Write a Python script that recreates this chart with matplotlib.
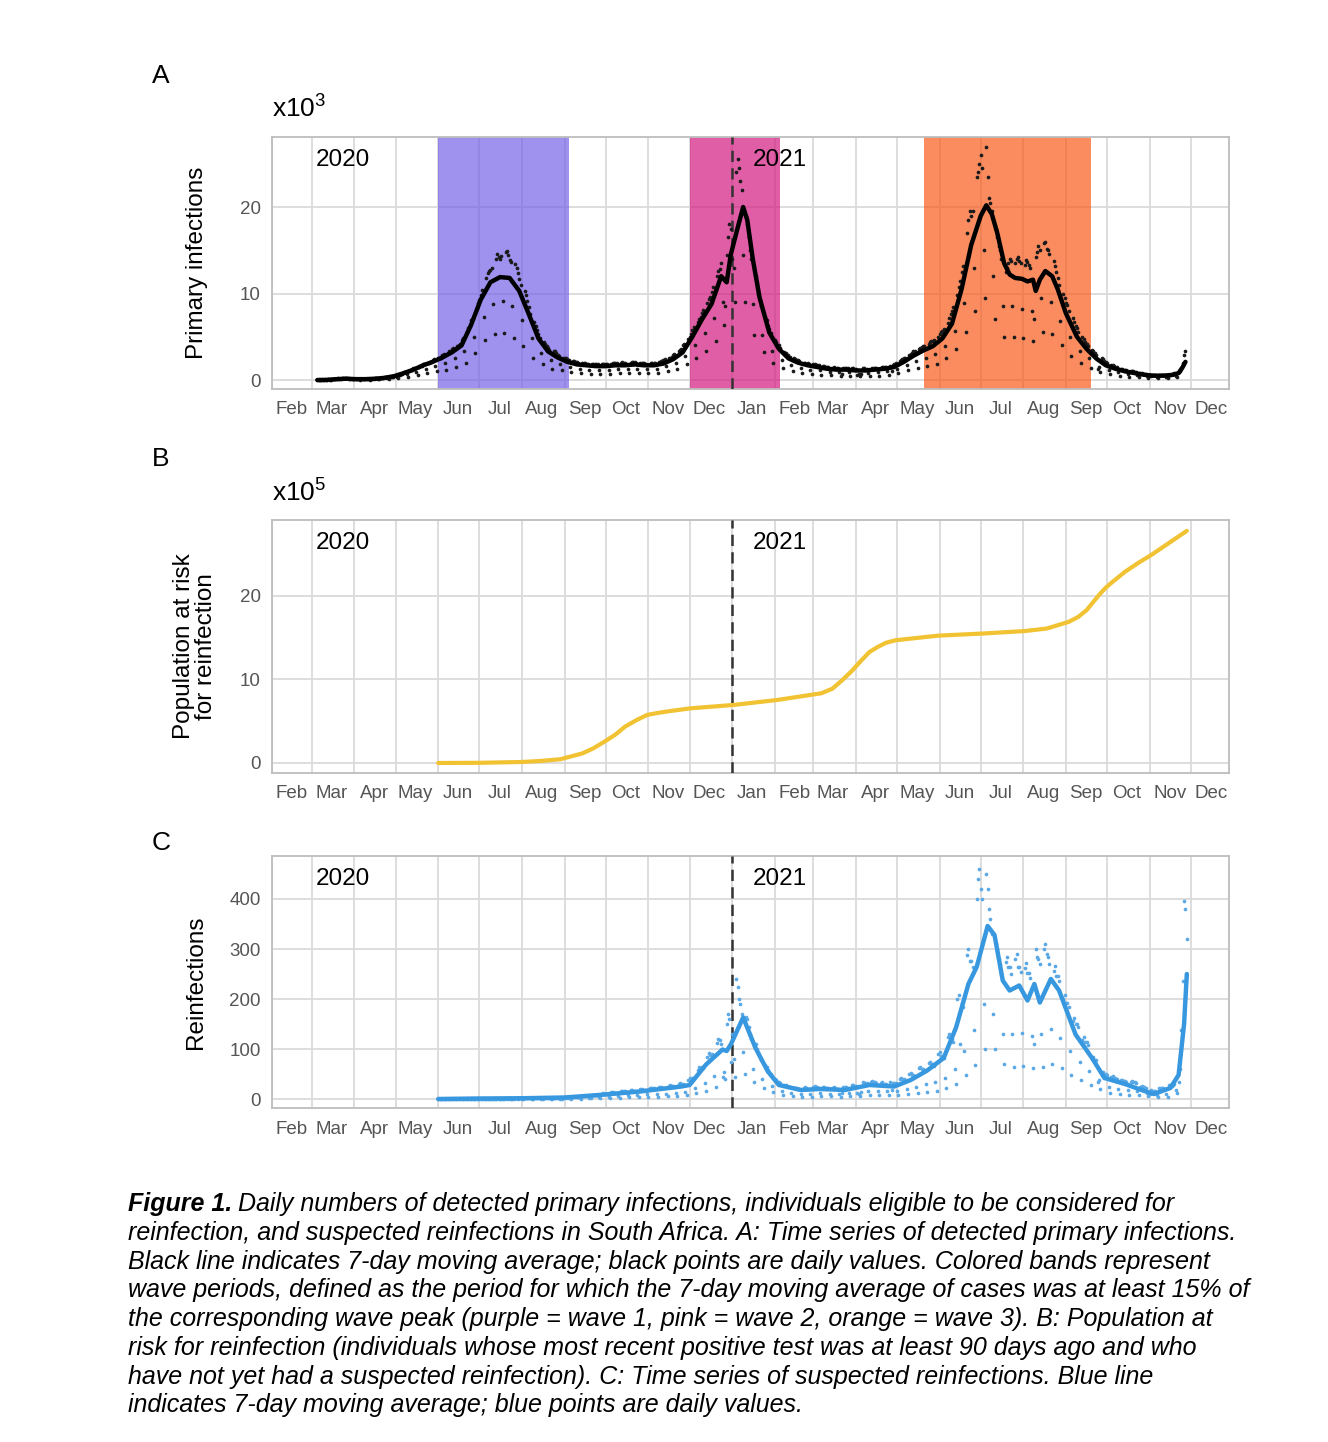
import numpy as np
import matplotlib
matplotlib.use('Agg')
import matplotlib.pyplot as plt
import matplotlib.dates as mdates

plt.rcParams['font.family'] = ['Liberation Sans', 'DejaVu Sans']
plt.rcParams['mathtext.fontset'] = 'custom'
plt.rcParams['mathtext.rm'] = 'Liberation Sans'

# ---------------- data ----------------
month_labels = ['Feb', 'Mar', 'Apr', 'May', 'Jun', 'Jul', 'Aug', 'Sep', 'Oct', 'Nov', 'Dec',
                'Jan', 'Feb', 'Mar', 'Apr', 'May', 'Jun', 'Jul', 'Aug', 'Sep', 'Oct', 'Nov', 'Dec']

wave_start = ['2020-06-01', '2020-12-01', '2021-05-21']
wave_end = ['2020-09-04', '2021-02-05', '2021-09-19']

# A: 7-day moving average of primary infections (x10^3)
prim_ma_dates = ['2020-03-05', '2020-03-12', '2020-03-19', '2020-03-26', '2020-04-02', '2020-04-09',
                 '2020-04-16', '2020-04-23', '2020-04-30', '2020-05-07', '2020-05-14', '2020-05-21',
                 '2020-05-28', '2020-06-04', '2020-06-11', '2020-06-18', '2020-06-25', '2020-07-02',
                 '2020-07-09', '2020-07-16', '2020-07-23', '2020-07-30', '2020-08-06', '2020-08-13',
                 '2020-08-20', '2020-08-27', '2020-09-03', '2020-09-10', '2020-09-17', '2020-09-24',
                 '2020-10-01', '2020-10-08', '2020-10-15', '2020-10-22', '2020-10-29', '2020-11-05',
                 '2020-11-12', '2020-11-19', '2020-11-26', '2020-12-03', '2020-12-10', '2020-12-17',
                 '2020-12-24', '2020-12-28', '2020-12-31', '2021-01-04', '2021-01-09', '2021-01-12',
                 '2021-01-16', '2021-01-21', '2021-01-28', '2021-02-04', '2021-02-11', '2021-02-18',
                 '2021-02-25', '2021-03-04', '2021-03-11', '2021-03-18', '2021-03-25', '2021-04-01',
                 '2021-04-08', '2021-04-15', '2021-04-22', '2021-04-29', '2021-05-06', '2021-05-13',
                 '2021-05-20', '2021-05-27', '2021-06-03', '2021-06-10', '2021-06-17', '2021-06-24',
                 '2021-07-01', '2021-07-05', '2021-07-09', '2021-07-13', '2021-07-18', '2021-07-22',
                 '2021-07-26', '2021-07-31', '2021-08-04', '2021-08-08', '2021-08-10', '2021-08-13',
                 '2021-08-17', '2021-08-22', '2021-08-26', '2021-09-01', '2021-09-09', '2021-09-16',
                 '2021-09-23', '2021-09-30', '2021-10-07', '2021-10-14', '2021-10-21', '2021-10-28',
                 '2021-11-04', '2021-11-11', '2021-11-18', '2021-11-22', '2021-11-25', '2021-11-27']
prim_ma = [0.0, 0.02, 0.1, 0.15, 0.1, 0.1,
           0.15, 0.25, 0.45, 0.8, 1.2, 1.7,
           2.1, 2.6, 3.2, 4.0, 6.4, 9.3,
           11.3, 11.9, 11.8, 10.3, 7.6, 4.8,
           3.3, 2.6, 2.1, 1.8, 1.7, 1.6,
           1.6, 1.7, 1.7, 1.8, 1.7, 1.7,
           1.9, 2.4, 3.2, 5.0, 7.0, 8.8,
           12.0, 11.3, 14.5, 17.0, 20.0, 18.5,
           14.0, 9.5, 5.5, 3.6, 2.5, 2.0,
           1.7, 1.5, 1.3, 1.2, 1.2, 1.1,
           1.1, 1.2, 1.3, 1.5, 2.1, 2.8,
           3.4, 3.9, 4.8, 6.5, 10.5, 15.6,
           19.0, 20.2, 19.2, 17.0, 13.5, 12.2,
           11.8, 11.7, 11.4, 11.6, 10.3, 11.6,
           12.6, 12.0, 10.5, 7.7, 5.0, 3.6,
           2.5, 1.7, 1.3, 1.0, 0.8, 0.6,
           0.5, 0.5, 0.6, 0.8, 1.5, 2.1]

# A: daily primary infections (x10^3), one row per week starting Thu 2020-03-05
prim_daily_start = '2020-03-05'
prim_daily = [
    [0.0, 0.0, 0.0, 0.0, 0.02, 0.02, 0.03],
    [0.05, 0.06, 0.04, 0.03, 0.08, 0.1, 0.12],
    [0.15, 0.18, 0.12, 0.08, 0.2, 0.22, 0.2],
    [0.2, 0.18, 0.1, 0.06, 0.15, 0.15, 0.14],
    [0.12, 0.12, 0.08, 0.05, 0.12, 0.12, 0.12],
    [0.12, 0.1, 0.06, 0.05, 0.12, 0.13, 0.14],
    [0.18, 0.2, 0.13, 0.08, 0.2, 0.22, 0.23],
    [0.3, 0.32, 0.22, 0.13, 0.36, 0.38, 0.4],
    [0.5, 0.55, 0.38, 0.24, 0.62, 0.66, 0.68],
    [0.9, 0.95, 0.64, 0.4, 1.05, 1.1, 1.1],
    [1.35, 1.4, 0.95, 0.58, 1.5, 1.6, 1.6],
    [1.85, 1.9, 1.3, 0.8, 2.0, 2.1, 2.1],
    [2.3, 2.4, 1.6, 1.0, 2.5, 2.6, 2.6],
    [2.9, 3.0, 2.0, 1.2, 3.1, 3.3, 3.3],
    [3.6, 3.7, 2.5, 1.5, 3.9, 4.1, 4.2],
    [4.6, 4.9, 3.3, 2.0, 5.6, 6.0, 6.3],
    [6.9, 7.2, 5.0, 3.1, 8.3, 8.9, 9.2],
    [9.8, 10.4, 7.3, 4.6, 11.8, 12.4, 12.6],
    [12.7, 13.0, 8.8, 5.3, 14.0, 14.6, 14.2],
    [14.0, 14.3, 9.1, 5.4, 14.8, 14.9, 14.4],
    [13.9, 13.6, 8.6, 4.9, 13.4, 12.9, 12.4],
    [11.7, 11.0, 6.9, 3.9, 10.3, 9.8, 9.1],
    [8.4, 7.6, 4.8, 2.6, 6.7, 6.3, 5.8],
    [5.3, 4.9, 3.1, 1.8, 4.4, 4.2, 3.9],
    [3.7, 3.5, 2.3, 1.3, 3.3, 3.3, 3.1],
    [2.9, 2.8, 1.8, 1.1, 2.6, 2.6, 2.5],
    [2.4, 2.3, 1.5, 0.9, 2.2, 2.2, 2.1],
    [2.1, 2.0, 1.3, 0.8, 2.0, 2.0, 2.0],
    [1.9, 1.9, 1.2, 0.7, 1.8, 1.9, 1.9],
    [1.9, 1.8, 1.2, 0.7, 1.8, 1.9, 1.9],
    [1.9, 1.9, 1.2, 0.7, 1.9, 2.0, 2.0],
    [2.0, 2.0, 1.3, 0.8, 2.0, 2.1, 2.0],
    [2.0, 1.9, 1.3, 0.8, 2.0, 2.1, 2.1],
    [2.1, 2.0, 1.3, 0.8, 2.0, 2.0, 2.0],
    [2.0, 1.9, 1.3, 0.8, 1.9, 2.0, 2.0],
    [2.0, 2.0, 1.3, 0.8, 2.1, 2.2, 2.2],
    [2.3, 2.4, 1.6, 1.0, 2.5, 2.6, 2.7],
    [2.9, 3.0, 2.0, 1.3, 3.3, 3.5, 3.6],
    [4.0, 4.2, 2.8, 1.8, 4.7, 5.0, 5.3],
    [5.8, 6.1, 4.1, 2.6, 6.7, 7.1, 7.3],
    [7.8, 8.1, 5.4, 3.4, 8.9, 9.4, 9.6],
    [10.2, 10.8, 7.2, 4.5, 12.0, 12.6, 12.8],
    [13.5, 9.0, 6.4, 8.5, 14.5, 16.5, 18.0],
    [17.5, 14.0, 13.0, 9.0, 24.0, 25.5, 24.5],
    [23.0, 22.0, 14.5, 9.0, 19.0, 18.0, 16.5],
    [15.0, 14.0, 8.8, 5.2, 12.0, 11.2, 10.0],
    [9.2, 8.5, 5.2, 3.2, 7.3, 6.9, 6.3],
    [5.9, 5.4, 3.4, 2.0, 4.6, 4.4, 4.0],
    [4.0, 3.7, 2.3, 1.4, 3.2, 3.1, 2.9],
    [2.9, 2.7, 1.7, 1.0, 2.5, 2.4, 2.3],
    [2.3, 2.2, 1.4, 0.8, 2.0, 2.0, 1.9],
    [2.0, 1.9, 1.2, 0.7, 1.8, 1.8, 1.7],
    [1.7, 1.7, 1.1, 0.6, 1.6, 1.6, 1.5],
    [1.5, 1.5, 0.9, 0.6, 1.4, 1.5, 1.4],
    [1.4, 1.4, 0.9, 0.5, 0.7, 1.4, 1.4],
    [1.4, 1.4, 0.9, 0.5, 1.4, 1.4, 1.3],
    [1.3, 0.6, 0.7, 0.5, 0.7, 1.4, 1.4],
    [1.3, 1.3, 0.8, 0.5, 1.3, 1.4, 1.4],
    [1.4, 1.4, 0.9, 0.5, 1.4, 1.5, 1.5],
    [1.5, 1.5, 1.0, 0.6, 1.6, 1.0, 1.7],
    [1.9, 2.0, 1.3, 0.8, 2.2, 2.3, 2.4],
    [2.5, 2.6, 1.7, 1.1, 2.9, 3.0, 3.1],
    [3.3, 3.4, 2.2, 1.4, 3.6, 3.7, 3.8],
    [3.9, 3.9, 2.6, 1.6, 4.2, 4.4, 4.5],
    [4.5, 4.6, 3.0, 1.9, 5.0, 5.3, 5.5],
    [5.7, 5.9, 3.9, 2.5, 6.6, 7.2, 7.6],
    [8.0, 8.4, 5.7, 3.6, 9.8, 10.8, 11.5],
    [12.5, 13.2, 8.9, 5.6, 17.0, 18.5, 19.5],
    [19.0, 19.5, 13.0, 8.0, 23.5, 24.0, 25.0],
    [26.0, 24.5, 15.0, 9.5, 27.0, 23.5, 21.0],
    [20.5, 19.5, 12.0, 7.0, 17.5, 16.5, 15.5],
    [15.0, 14.0, 8.5, 5.0, 12.5, 13.0, 13.5],
    [14.0, 13.8, 8.5, 5.0, 13.5, 14.0, 14.2],
    [13.8, 13.5, 8.2, 4.8, 13.3, 13.9, 13.7],
    [13.3, 13.0, 8.0, 4.5, 7.0, 14.2, 14.8],
    [15.5, 15.0, 9.5, 5.6, 15.8, 16.0, 15.2],
    [15.0, 14.6, 9.0, 5.3, 13.8, 13.2, 12.5],
    [11.8, 11.0, 6.8, 4.0, 10.0, 9.5, 8.9],
    [8.7, 8.0, 5.0, 2.8, 7.2, 6.7, 6.2],
    [6.0, 5.5, 3.4, 2.0, 5.0, 4.7, 4.4],
    [4.2, 3.9, 2.5, 1.4, 3.5, 3.3, 3.1],
    [2.9, 1.3, 1.5, 0.9, 2.5, 2.4, 2.2],
    [2.1, 2.0, 1.2, 0.7, 1.7, 1.7, 1.6],
    [1.5, 1.5, 0.9, 0.5, 1.3, 1.3, 1.2],
    [1.2, 1.1, 0.7, 0.4, 1.0, 1.0, 1.0],
    [0.95, 0.9, 0.55, 0.33, 0.8, 0.8, 0.75],
    [0.72, 0.7, 0.45, 0.27, 0.62, 0.5, 0.62],
    [0.6, 0.6, 0.38, 0.23, 0.6, 0.6, 0.6],
    [0.6, 0.6, 0.38, 0.23, 0.58, 0.62, 0.64],
    [0.75, 0.78, 0.5, 0.32, 0.9, 1.05, 1.3],
    [2.0, 2.9, 3.3],
]

# B: population at risk for reinfection (x10^5)
risk_dates = ['2020-06-01', '2020-07-01', '2020-08-01', '2020-08-15', '2020-08-29', '2020-09-14',
              '2020-09-22', '2020-09-30', '2020-10-08', '2020-10-15', '2020-10-23', '2020-10-31',
              '2020-11-08', '2020-11-16', '2020-12-02', '2021-01-02', '2021-02-03', '2021-03-07',
              '2021-03-15', '2021-03-22', '2021-03-29', '2021-04-04', '2021-04-11', '2021-04-17',
              '2021-04-23', '2021-04-30', '2021-05-31', '2021-07-02', '2021-08-02', '2021-08-18',
              '2021-09-03', '2021-09-10', '2021-09-16', '2021-09-21', '2021-09-25', '2021-09-30',
              '2021-10-05', '2021-10-14', '2021-10-24', '2021-11-02', '2021-11-28']
risk_pop = [0.0, 0.02, 0.12, 0.25, 0.45, 1.15,
            1.76, 2.55, 3.4, 4.35, 5.1, 5.75,
            6.0, 6.2, 6.55, 6.95, 7.55, 8.35,
            8.9, 9.9, 11.0, 12.1, 13.3, 13.9,
            14.4, 14.7, 15.25, 15.5, 15.8, 16.1,
            16.9, 17.5, 18.3, 19.3, 20.1, 21.0,
            21.7, 22.9, 24.0, 24.9, 27.8]

# C: 7-day moving average of suspected reinfections
reinf_ma_dates = ['2020-06-01', '2020-07-01', '2020-08-01', '2020-09-01', '2020-09-26', '2020-10-26',
                  '2020-11-25', '2020-12-01', '2020-12-13', '2020-12-25', '2020-12-28', '2020-12-31',
                  '2021-01-09', '2021-01-18', '2021-01-27', '2021-02-04', '2021-02-20', '2021-03-06',
                  '2021-03-24', '2021-04-11', '2021-04-29', '2021-05-11', '2021-05-23', '2021-06-04',
                  '2021-06-13', '2021-06-22', '2021-06-28', '2021-07-06', '2021-07-11', '2021-07-17',
                  '2021-07-22', '2021-07-29', '2021-08-04', '2021-08-09', '2021-08-13', '2021-08-21',
                  '2021-08-27', '2021-09-08', '2021-09-20', '2021-09-29', '2021-10-14', '2021-10-26',
                  '2021-11-04', '2021-11-16', '2021-11-22', '2021-11-26', '2021-11-28']
reinf_ma = [0, 1, 1.5, 3, 8, 15,
            25, 28, 69, 99, 96, 109,
            163, 102, 55, 28, 18, 20,
            18, 28, 25, 38, 57, 82,
            143, 230, 264, 346, 328, 237,
            217, 227, 197, 230, 193, 240,
            217, 129, 82, 42, 30, 18,
            10, 22, 48, 150, 250]

# C: daily suspected reinfections, one row per week starting Mon 2020-06-01
reinf_daily_start = '2020-06-01'
reinf_daily = [
    [0, 1, 0, 0, 1, 0, 0], [1, 0, 1, 0, 1, 0, 0], [1, 1, 0, 1, 0, 0, 0], [1, 1, 1, 0, 1, 0, 0],
    [1, 1, 1, 1, 1, 0, 0], [1, 1, 1, 1, 1, 1, 0], [1, 2, 1, 1, 1, 1, 0], [2, 1, 2, 1, 1, 1, 0],
    [2, 2, 1, 2, 2, 1, 0], [2, 2, 2, 2, 2, 1, 0], [2, 3, 2, 2, 2, 1, 1], [3, 3, 2, 2, 2, 1, 1],
    [3, 3, 3, 3, 3, 1, 1], [3, 4, 3, 4, 3, 2, 1], [4, 5, 4, 4, 4, 2, 1], [6, 7, 6, 6, 6, 3, 2],
    [9, 9, 8, 9, 8, 4, 2], [11, 12, 11, 11, 10, 5, 3], [14, 14, 13, 13, 13, 7, 3],
    [16, 17, 16, 16, 15, 8, 4], [18, 18, 17, 17, 16, 8, 4], [20, 21, 19, 19, 18, 10, 5],
    [23, 23, 22, 22, 21, 11, 5], [24, 25, 23, 23, 22, 11, 6], [27, 29, 26, 26, 25, 13, 7],
    [31, 33, 30, 30, 29, 15, 8], [38, 42, 40, 42, 42, 22, 12], [58, 64, 62, 64, 63, 33, 17],
    [85, 92, 88, 90, 88, 46, 24], [112, 120, 118, 110, 45, 55, 40], [150, 170, 160, 75, 130, 80, 45],
    [240, 225, 200, 190, 170, 95, 50], [165, 160, 145, 130, 120, 60, 35],
    [110, 100, 92, 85, 78, 40, 22], [68, 64, 58, 55, 50, 26, 14], [40, 38, 35, 34, 32, 16, 9],
    [28, 28, 26, 25, 24, 12, 6], [23, 23, 22, 21, 20, 10, 5], [23, 24, 22, 21, 20, 10, 5],
    [25, 26, 24, 24, 23, 12, 6], [24, 25, 23, 23, 22, 11, 6], [23, 24, 22, 21, 20, 10, 5],
    [12, 25, 24, 24, 23, 12, 6], [28, 29, 27, 26, 12, 11, 6], [15, 35, 33, 33, 32, 16, 8],
    [35, 36, 34, 34, 32, 17, 8], [33, 34, 31, 31, 30, 16, 8], [34, 18, 33, 33, 32, 16, 8],
    [41, 43, 40, 40, 38, 20, 10], [50, 52, 48, 48, 46, 24, 12], [62, 65, 60, 60, 58, 30, 15],
    [73, 75, 70, 70, 67, 35, 17], [90, 94, 86, 86, 83, 43, 22], [125, 130, 120, 120, 115, 60, 30],
    [200, 208, 110, 192, 184, 96, 48], [288, 300, 276, 276, 265, 138, 69],
    [400, 440, 460, 420, 400, 190, 100], [450, 420, 380, 360, 330, 170, 100],
    [310, 300, 280, 270, 250, 130, 70], [275, 285, 265, 265, 250, 130, 65],
    [280, 290, 265, 265, 255, 133, 67], [262, 273, 252, 252, 242, 126, 63],
    [110, 300, 285, 280, 270, 130, 65], [300, 310, 290, 285, 270, 140, 70],
    [256, 266, 246, 246, 236, 123, 62], [200, 208, 192, 192, 184, 96, 48],
    [156, 162, 150, 150, 144, 75, 38], [119, 124, 114, 114, 109, 57, 29],
    [81, 85, 78, 78, 35, 39, 20], [52, 55, 50, 50, 48, 25, 13], [44, 46, 42, 42, 40, 21, 11],
    [38, 39, 36, 36, 35, 18, 9], [35, 36, 34, 34, 32, 17, 8], [25, 26, 24, 24, 23, 12, 6],
    [10, 18, 17, 17, 16, 8, 4], [22, 23, 22, 22, 21, 11, 5], [28, 29, 27, 28, 30, 18, 12],
    [35, 60, 139, 237, 395, 380, 320],
]

caption = [
    'reinfection, and suspected reinfections in South Africa. A: Time series of detected primary infections.',
    'Black line indicates 7-day moving average; black points are daily values. Colored bands represent',
    'wave periods, defined as the period for which the 7-day moving average of cases was at least 15% of',
    'the corresponding wave peak (purple = wave 1, pink = wave 2, orange = wave 3). B: Population at',
    'risk for reinfection (individuals whose most recent positive test was at least 90 days ago and who',
    'have not yet had a suspected reinfection). C: Time series of suspected reinfections. Blue line',
    'indicates 7-day moving average; blue points are daily values.',
]
caption_first = 'Daily numbers of detected primary infections, individuals eligible to be considered for'


def dnum(s):
    return mdates.date2num(np.datetime64(s))


def daily_x(start, rows):
    vals = np.concatenate([np.asarray(r, dtype=float) for r in rows])
    x = dnum(start) + np.arange(len(vals))
    return x, vals


# month gridlines and mid-month labels
month_starts = []
for i in range(len(month_labels)):
    y = 2020 + (i + 1) // 12
    m = (i + 1) % 12 + 1
    month_starts.append(dnum('%04d-%02d-01' % (y, m)))
month_starts = np.array(month_starts)
month_mids = month_starts + 14.5

x_left = dnum('2020-02-01') + 0.6
x_right = dnum('2021-12-28') + 0.7
new_year = dnum('2021-01-01')

GRID = '#DADADA'
BORDER = '#BDBDBD'
TICK = '#555555'

W, H = 1328, 1442
fig = plt.figure(figsize=(W / 100, H / 100), dpi=100)


def make_axes(top, bottom):
    return fig.add_axes([272 / W, 1 - bottom / H, (1229 - 272) / W, (bottom - top) / H])


def style(ax, yticks, ylim):
    ax.set_xlim(x_left, x_right)
    ax.set_ylim(*ylim)
    ax.set_xticks(month_mids)
    ax.set_xticklabels(month_labels)
    ax.set_xticks(month_starts, minor=True)
    ax.set_yticks(yticks)
    ax.tick_params(which='both', length=0)
    ax.tick_params(axis='x', pad=9, labelsize=13.5, colors=TICK)
    ax.tick_params(axis='y', pad=8, labelsize=13.5, colors=TICK)
    ax.grid(which='minor', axis='x', color=GRID, lw=1.3, zorder=0)
    ax.grid(which='major', axis='y', color=GRID, lw=1.3, zorder=0)
    ax.set_axisbelow(True)
    for sp in ax.spines.values():
        sp.set_color(BORDER)
        sp.set_linewidth(1.3)
    ax.axvline(new_year, color='#333333', lw=1.8, ls=(0, (4.5, 2.5)), zorder=3)
    ax.text(0.046, 0.91, '2020', transform=ax.transAxes, fontsize=17.5, va='center', ha='left')
    ax.text(0.5026, 0.91, '2021', transform=ax.transAxes, fontsize=17.5, va='center', ha='left')


# ---------------- panel A ----------------
axA = make_axes(137, 389)
for s, e, c in zip(wave_start, wave_end, ['#7762E7', '#D31A80', '#F95B1C']):
    axA.axvspan(dnum(s), dnum(e), color=c, alpha=0.7, lw=0, zorder=1)
px, py = daily_x(prim_daily_start, prim_daily)
axA.scatter(px, py, s=7, color='#1a1a1a', lw=0, zorder=4)
axA.plot([dnum(d) for d in prim_ma_dates], prim_ma, color='black', lw=3.2, zorder=5,
         solid_joinstyle='round', solid_capstyle='round')
style(axA, [0, 10, 20], (-1.04, 28.1))
axA.text(-0.078, 0.5, 'Primary infections', rotation=90, transform=axA.transAxes,
         fontsize=17.5, ha='center', va='center')

# ---------------- panel B ----------------
axB = make_axes(520, 773)
axB.plot([dnum(d) for d in risk_dates], risk_pop, color='#F1C232', lw=3.0, zorder=5,
         solid_joinstyle='round', solid_capstyle='round')
style(axB, [0, 10, 20], (-1.2, 29.1))
axB.text(-0.08, 0.5, 'Population at risk\nfor reinfection', rotation=90, transform=axB.transAxes,
         fontsize=17.5, ha='center', va='center', multialignment='center', linespacing=1.0)

# ---------------- panel C ----------------
axC = make_axes(856, 1108)
cx, cy = daily_x(reinf_daily_start, reinf_daily)
axC.scatter(cx, cy, s=7, color='#5AA9E6', lw=0, zorder=4)
axC.plot([dnum(d) for d in reinf_ma_dates], reinf_ma, color='#3797DF', lw=3.2, zorder=5,
         solid_joinstyle='round', solid_capstyle='round')
style(axC, [0, 100, 200, 300, 400], (-18, 486))
axC.text(-0.079, 0.5, 'Reinfections', rotation=90, transform=axC.transAxes,
         fontsize=17.5, ha='center', va='center')

# ---------------- figure text ----------------
fig.text(272 / W, 1 - 117 / H, r'x10$^{3}$', fontsize=19, va='baseline', ha='left')
fig.text(272 / W, 1 - 501 / H, r'x10$^{5}$', fontsize=19, va='baseline', ha='left')
for lab, yc in zip(['A', 'B', 'C'], [76, 459, 843]):
    fig.text(161 / W, 1 - yc / H, lab, fontsize=19, ha='center', va='center')

cap_size = 18
line_y = [1204, 1233, 1262, 1290, 1319, 1348, 1377, 1405]
t0 = fig.text(128 / W, 1 - line_y[0] / H, 'Figure 1.', fontsize=cap_size, style='italic',
              weight='bold', va='center', ha='left')
renderer = fig.canvas.get_renderer()
bb = t0.get_window_extent(renderer=renderer)
fig.text((bb.x1 + 6) / W, 1 - line_y[0] / H, caption_first, fontsize=cap_size, style='italic',
         va='center', ha='left')
for txt, yc in zip(caption, line_y[1:]):
    fig.text(128 / W, 1 - yc / H, txt, fontsize=cap_size, style='italic', va='center', ha='left')

fig.savefig('out.png', dpi=100, facecolor='white')
